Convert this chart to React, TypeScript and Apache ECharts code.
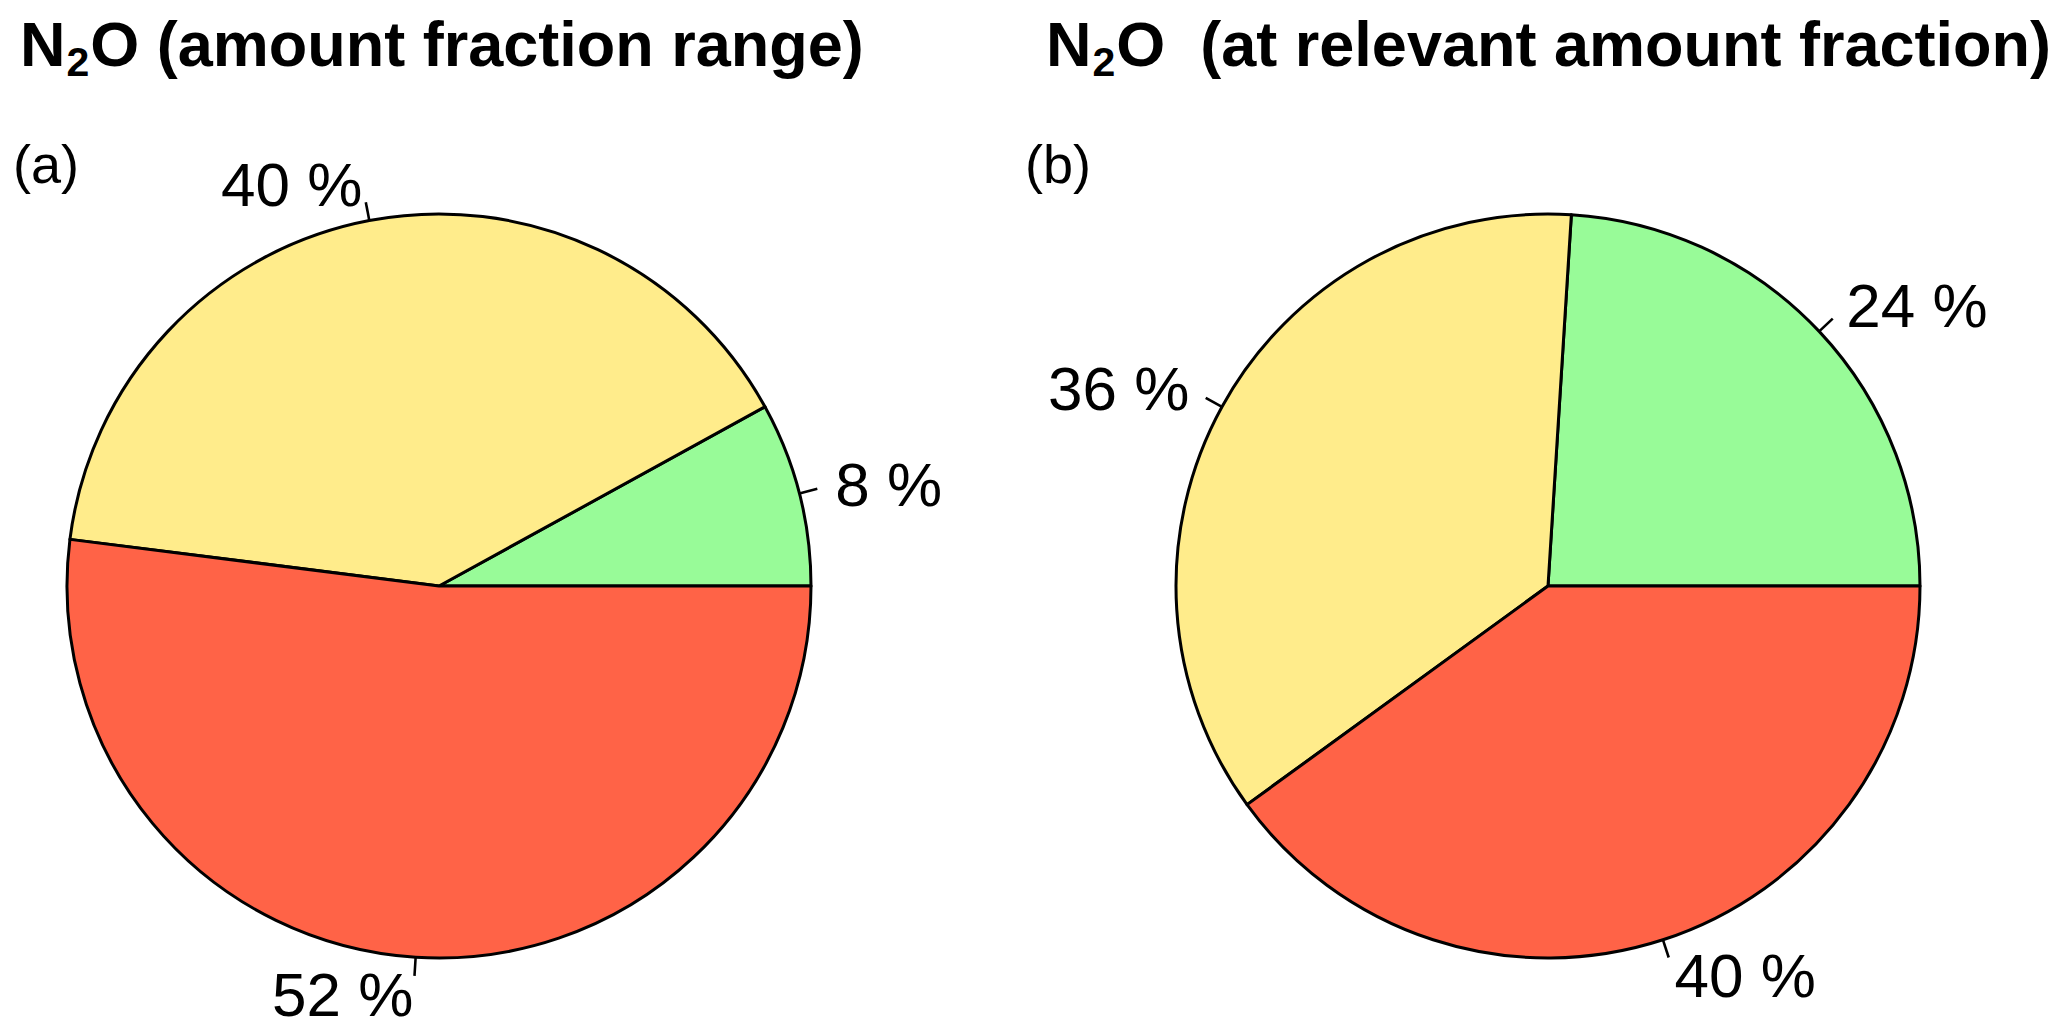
import React, { useEffect, useRef } from "react";
import * as echarts from "echarts";

const categories = ["green", "yellow", "red"];
const valuesA = [8, 40, 52];
const valuesB = [24, 36, 40];
const sliceColors = ["#98FB98", "#FFEC8B", "#FF6347"];
const titleHead = "N";
const titleSub = "2";
const titleA = "O (amount fraction range)";
const titleB = "O  (at relevant amount fraction)";
const panelA = "(a)";
const panelB = "(b)";

const FONT = "'Liberation Sans', Arial, Helvetica, sans-serif";
const R = 372;
const TITLE_SIZE = 63;
const SUB_SIZE = 41;

function measure(text: string, font: string) {
  const c = document.createElement("canvas");
  const ctx = c.getContext("2d");
  if (!ctx) return text.length * 30;
  ctx.font = font;
  return ctx.measureText(text).width;
}

function makePie(values: number[], cx: number) {
  return {
    type: "pie",
    center: [cx, 586],
    radius: R,
    startAngle: 0,
    clockwise: false,
    avoidLabelOverlap: false,
    silent: true,
    emphasis: { disabled: true },
    data: categories.map((c, i) => ({
      name: c,
      value: values[i],
      itemStyle: { color: sliceColors[i] },
    })),
    itemStyle: { borderColor: "#000", borderWidth: 3 },
    label: {
      show: true,
      position: "outside",
      formatter: "{c} %",
      fontSize: 62,
      fontFamily: FONT,
      color: "#000",
      distanceToLabelLine: 0,
    },
    labelLine: {
      show: true,
      length: R * 0.1,
      length2: 0,
      lineStyle: { color: "#000", width: 2.6 },
    },
    labelLayout: (p: any) => {
      const pts = p.labelLinePoints;
      if (!pts || pts.length < 2) return {};
      const a = pts[0];
      const b = pts[1];
      return {
        labelLinePoints: [a, [(a[0] + b[0]) / 2, (a[1] + b[1]) / 2]],
      };
    },
  };
}

function textEl(text: string, x: number, y: number, size: number, bold: boolean) {
  return {
    type: "text",
    x,
    y,
    silent: true,
    style: {
      text,
      fontSize: size,
      fontWeight: bold ? "bold" : "normal",
      fontFamily: FONT,
      fill: "#000",
      align: "left",
      verticalAlign: "middle",
      textAlign: "left",
      textVerticalAlign: "middle",
    },
  };
}

function titleEls(rest: string, left: number) {
  const wN = measure(titleHead, `bold ${TITLE_SIZE}px ${FONT}`);
  const w2 = measure(titleSub, `bold ${SUB_SIZE}px ${FONT}`);
  return [
    textEl(titleHead, left, 44, TITLE_SIZE, true),
    textEl(titleSub, left + wN + 1, 62, SUB_SIZE, true),
    textEl(rest, left + wN + w2 + 2, 44, TITLE_SIZE, true),
  ];
}

export default function App() {
  const ref = useRef<HTMLDivElement>(null);
  useEffect(() => {
    if (!ref.current) return;
    const chart = echarts.init(ref.current, undefined, { renderer: "svg" });
    chart.setOption({
      animation: false,
      backgroundColor: "#fff",
      graphic: [
        ...titleEls(titleA, 20),
        ...titleEls(titleB, 1046),
        textEl(panelA, 13, 164, 54, false),
        textEl(panelB, 1025, 164, 54, false),
      ],
      series: [makePie(valuesA, 439), makePie(valuesB, 1548)],
    });
    return () => chart.dispose();
  }, []);
  return (
    <div
      ref={ref}
      style={{ position: "absolute", left: 0, top: 0, width: 2067, height: 1034 }}
    />
  );
}
